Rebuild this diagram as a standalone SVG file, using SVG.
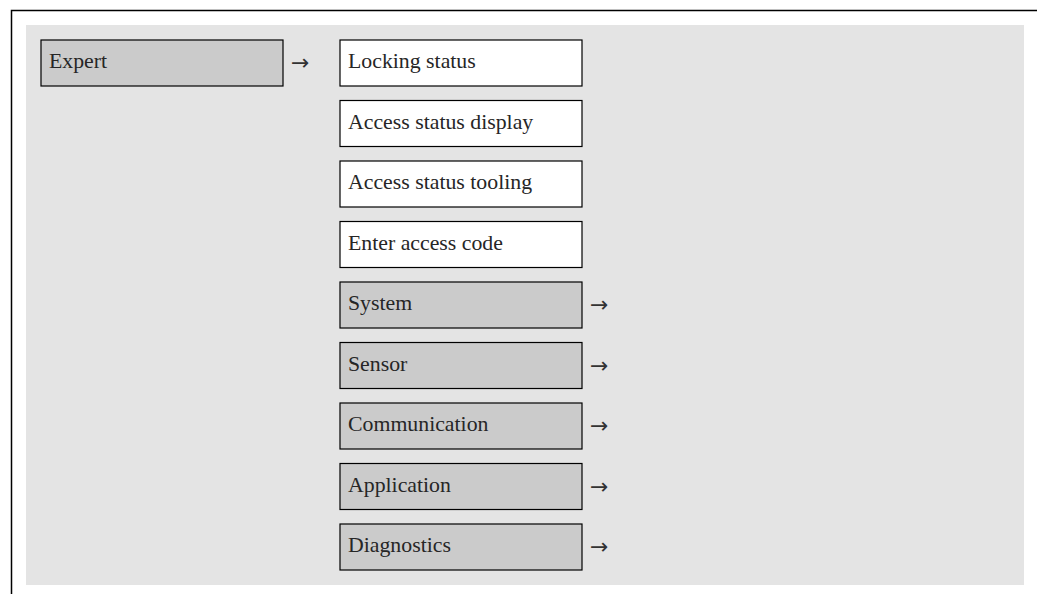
<svg xmlns="http://www.w3.org/2000/svg" width="1037" height="594" viewBox="0 0 1037 594">
<style>
.bg{fill:#e4e4e4}
.frame{stroke:#000;stroke-width:1.5;fill:none}
.menu{fill:#cbcbcb;stroke:#000;stroke-width:1.2}
.param{fill:#fff;stroke:#000;stroke-width:1.2}
.t{font-family:"Liberation Serif","DejaVu Serif",serif;font-size:21.8px;fill:#262626}
.arr{font-family:"DejaVu Sans","Liberation Sans",sans-serif;font-size:22px;fill:#333}
</style>
<rect width="1037" height="594" fill="#fff"/>
<path class="frame" d="M1037 10.5 H11.5 V594"/>
<rect class="bg" x="26" y="25" width="998" height="560"/>
<g id="expert"><rect class="menu" x="41" y="40" width="242" height="46"/><text class="t" x="49" y="68">Expert</text></g>
<g id="locking-status"><rect class="param" x="340" y="40" width="242" height="46"/><text class="t" x="348" y="68">Locking status</text></g>
<g id="access-status-display"><rect class="param" x="340" y="100.5" width="242" height="46"/><text class="t" x="348" y="128.5">Access status display</text></g>
<g id="access-status-tooling"><rect class="param" x="340" y="161" width="242" height="46"/><text class="t" x="348" y="189">Access status tooling</text></g>
<g id="enter-access-code"><rect class="param" x="340" y="221.5" width="242" height="46"/><text class="t" x="348" y="249.5">Enter access code</text></g>
<g id="system"><rect class="menu" x="340" y="282" width="242" height="46"/><text class="t" x="348" y="310">System</text></g>
<g id="sensor"><rect class="menu" x="340" y="342.5" width="242" height="46"/><text class="t" x="348" y="370.5">Sensor</text></g>
<g id="communication"><rect class="menu" x="340" y="403" width="242" height="46"/><text class="t" x="348" y="431">Communication</text></g>
<g id="application"><rect class="menu" x="340" y="463.5" width="242" height="46"/><text class="t" x="348" y="491.5">Application</text></g>
<g id="diagnostics"><rect class="menu" x="340" y="524" width="242" height="46"/><text class="t" x="348" y="552">Diagnostics</text></g>
<g id="connectors">
<text class="arr" x="291" y="70">→</text>
<text class="arr" x="590" y="312">→</text>
<text class="arr" x="590" y="372.5">→</text>
<text class="arr" x="590" y="433">→</text>
<text class="arr" x="590" y="493.5">→</text>
<text class="arr" x="590" y="554">→</text>
</g>
</svg>
